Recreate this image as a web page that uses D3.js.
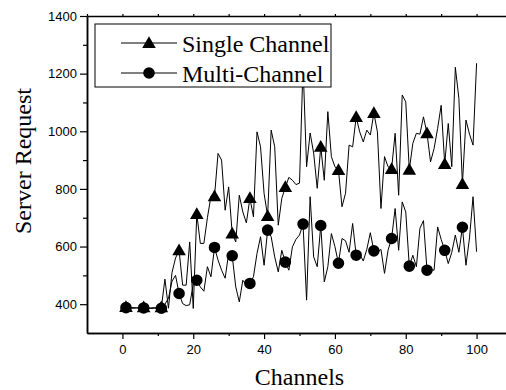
<!DOCTYPE html>
<html>
<head>
<meta charset="utf-8">
<script src="https://cdn.jsdelivr.net/npm/d3@7"></script>
<style>
  html, body { margin: 0; padding: 0; background: #fff; }
  svg { display: block; }
  .tick text { font-family: "Liberation Sans", Arial, sans-serif; font-size: 13px; fill: #000; }
  .title { font-family: "Liberation Serif", "Times New Roman", serif; font-size: 24px; fill: #000; }
</style>
</head>
<body>
<div id="chart"></div>
<script>
// channel index 1..100
const channels = d3.range(1, 101);

// server requests, single channel
const singleChannel = [
  390, 388, 388, 387, 388, 389, 388, 387, 388, 387,
  389, 487, 386, 510, 560, 587, 466, 466, 616, 385,
  713, 611, 611, 700, 775, 774, 923, 900, 726, 807,
  645, 616, 778, 720, 682, 768, 703, 998, 946, 784,
  706, 1004, 946, 674, 767, 806, 840, 830, 815, 820,
  1230, 877, 994, 924, 802, 946, 830, 1068, 912, 877,
  865, 738, 785, 952, 946, 1049, 998, 963, 1004, 987,
  1063, 998, 732, 912, 877, 869, 993, 778, 1126, 1102,
  866, 958, 993, 990, 1050, 993, 894, 940, 1010, 1090,
  886, 1027, 877, 1222, 1114, 817, 1039, 990, 952, 1236
];

// server requests, multi-channel
const multiChannel = [
  388, 387, 386, 387, 386, 387, 386, 385, 386, 385,
  386, 400, 420, 480, 500, 437, 402, 395, 398, 470,
  483, 460, 445, 530, 495, 597, 553, 518, 490, 576,
  568, 460, 408, 483, 466, 472, 495, 576, 634, 535,
  657, 634, 564, 512, 587, 546, 518, 599, 625, 640,
  678, 414, 773, 564, 530, 673, 477, 530, 645, 600,
  542, 628, 620, 580, 680, 570, 573, 550, 590, 648,
  585, 580, 590, 507, 587, 628, 732, 587, 755, 720,
  532, 570, 530, 663, 690, 518, 520, 518, 668, 625,
  587, 541, 580, 640, 580, 667, 535, 630, 773, 582
];

// axis ticks
const xMajorTicks = [0, 20, 40, 60, 80, 100];
const xMinorTicks = [10, 30, 50, 70, 90];
const xTopTicks = d3.range(-10, 111, 10);
const yMajorTicks = [400, 600, 800, 1000, 1200, 1400];
const yMinorTicks = [500, 700, 900, 1100, 1300];

const seriesNames = ['Single Channel', 'Multi-Channel'];
const markerEvery = 5;

const width = 506, height = 390;
const plot = {left: 87, top: 16, right: 512, bottom: 333};

const svg = d3.select('#chart').append('svg')
  .attr('width', width)
  .attr('height', height);

const x = d3.scaleLinear().domain([-10, 110]).range([plot.left, plot.right]);
const y = d3.scaleLinear().domain([300, 1400]).range([plot.bottom, plot.top]);

const rowsSingle = channels.map((c, i) => ({c, v: singleChannel[i]}));
const rowsMulti = channels.map((c, i) => ({c, v: multiChannel[i]}));

const line = d3.line().x(d => x(d.c)).y(d => y(d.v));

// data lines
svg.append('path').datum(rowsMulti)
  .attr('d', line).attr('fill', 'none').attr('stroke', '#000').attr('stroke-width', 1);
svg.append('path').datum(rowsSingle)
  .attr('d', line).attr('fill', 'none').attr('stroke', '#000').attr('stroke-width', 1);

// markers every 5th point
const circleSym = d3.symbol().type(d3.symbolCircle).size(105);
const triSym = d3.symbol().type(d3.symbolTriangle).size(80);

svg.append('g').selectAll('path')
  .data(rowsMulti.filter((d, i) => i % markerEvery === 0))
  .join('path')
    .attr('transform', d => `translate(${x(d.c)},${y(d.v)})`)
    .attr('d', circleSym);

svg.append('g').selectAll('path')
  .data(rowsSingle.filter((d, i) => i % markerEvery === 0))
  .join('path')
    .attr('transform', d => `translate(${x(d.c)},${y(d.v) + 1})`)
    .attr('d', triSym);

// axes
const axisStyle = g => {
  g.select('.domain').attr('stroke', '#000').attr('stroke-width', 1.5);
  g.selectAll('.tick line').attr('stroke', '#000').attr('stroke-width', 1.2);
};

svg.append('g')
  .attr('transform', `translate(0,${plot.bottom})`)
  .call(d3.axisBottom(x).tickValues(xMajorTicks).tickSize(6).tickSizeOuter(0).tickPadding(6)
    .tickFormat(d3.format('d')))
  .call(axisStyle);
svg.append('g')
  .attr('transform', `translate(0,${plot.bottom})`)
  .call(d3.axisBottom(x).tickValues(xMinorTicks).tickSize(3).tickSizeOuter(0).tickFormat(''))
  .call(axisStyle);

svg.append('g')
  .attr('transform', `translate(0,${plot.top})`)
  .call(d3.axisTop(x).tickValues(xTopTicks).tickSize(2).tickSizeOuter(0).tickFormat(''))
  .call(axisStyle);

svg.append('g')
  .attr('transform', `translate(${plot.left},0)`)
  .call(d3.axisLeft(y).tickValues(yMajorTicks).tickSize(7).tickSizeOuter(0).tickPadding(3)
    .tickFormat(d3.format('d')))
  .call(axisStyle);
svg.append('g')
  .attr('transform', `translate(${plot.left},0)`)
  .call(d3.axisLeft(y).tickValues(yMinorTicks).tickSize(4).tickSizeOuter(0).tickFormat(''))
  .call(axisStyle);

// axis titles
svg.append('text').attr('class', 'title')
  .attr('x', (plot.left + plot.right) / 2).attr('y', 385)
  .attr('text-anchor', 'middle')
  .text('Channels');

svg.append('text').attr('class', 'title')
  .attr('transform', `translate(31,161) rotate(-90)`)
  .attr('text-anchor', 'middle')
  .text('Server Request');

// legend
const legend = svg.append('g');
legend.append('rect')
  .attr('x', 95).attr('y', 24).attr('width', 236).attr('height', 63)
  .attr('fill', '#fff').attr('stroke', '#000').attr('stroke-width', 1);

const legendRows = [43, 73];
const legendSyms = [triSym, circleSym];
seriesNames.forEach((name, i) => {
  const ly = legendRows[i];
  legend.append('line')
    .attr('x1', 121).attr('x2', 177).attr('y1', ly).attr('y2', ly)
    .attr('stroke', '#000').attr('stroke-width', 1);
  legend.append('path')
    .attr('transform', `translate(149,${ly + (i === 0 ? 1 : 0)})`)
    .attr('d', legendSyms[i]);
  legend.append('text').attr('class', 'title')
    .attr('x', 182).attr('y', ly + 9)
    .text(name);
});
</script>
</body>
</html>
